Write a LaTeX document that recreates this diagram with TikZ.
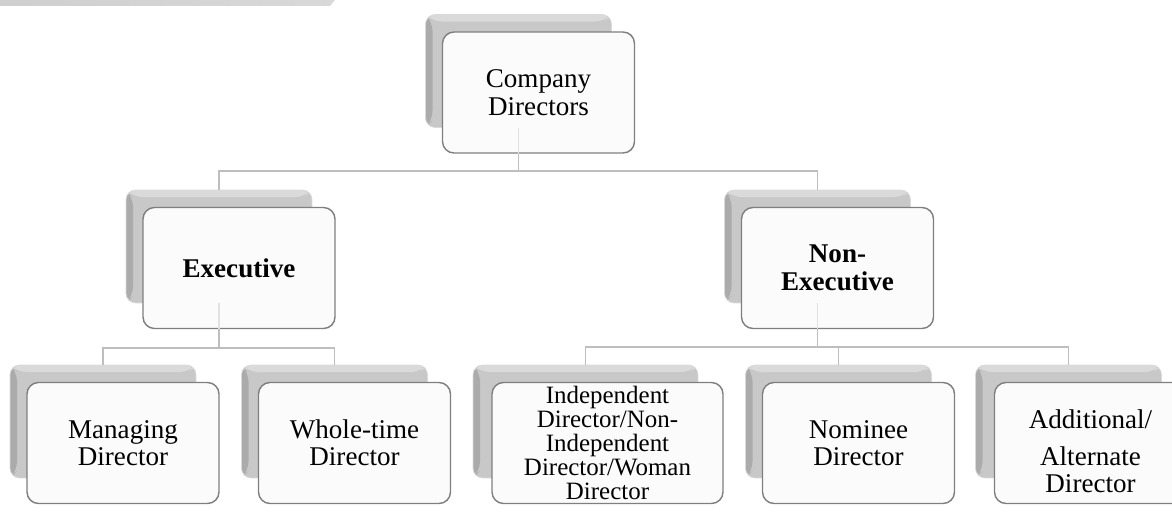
\documentclass[tikz,border=0pt]{standalone}
\usepackage{fontspec}
\setmainfont{Liberation Serif}
\usepackage{xcolor}
\usepackage{tikz}
\usetikzlibrary{positioning}
\definecolor{cardedge}{HTML}{7F7F7F}
\definecolor{cardfill}{HTML}{FBFBFC}
\definecolor{linkgray}{HTML}{BEBEBE}
\definecolor{backtop}{HTML}{DADADA}
\definecolor{backmid}{HTML}{C8C8C8}
\definecolor{backside}{HTML}{ABABAB}

\begin{document}
\begin{tikzpicture}[x=0.02cm,y=-0.02cm,font=\fontsize{15.4}{15.6}\selectfont]
\tikzset{
backcard/.style={rounded corners=5.5pt,minimum width=3.72cm,minimum height=2.26cm,inner sep=0pt,fill=backmid,draw=backtop,
  path picture={
    \fill[backside] (path picture bounding box.north west) -- ++(4pt,-4pt)
      -- ([shift={(4pt,4pt)}]path picture bounding box.south west) -- (path picture bounding box.south west) -- cycle;
    \fill[backtop] (path picture bounding box.north west) -- (path picture bounding box.north east)
      -- ++(-4pt,-4pt) -- ([shift={(4pt,-4pt)}]path picture bounding box.north west) -- cycle;}},
card/.style={draw=cardedge,line width=0.8pt,rounded corners=6.5pt,fill=cardfill,minimum width=3.84cm,minimum height=2.42cm,
  text width=3.6cm,align=center,inner sep=0pt},
link/.style={draw=linkgray,line width=1.1pt},
ghost/.style={draw=linkgray!45,line width=1pt}}

\useasboundingbox (0,0) rectangle (1172,517);
\clip (0,0) rectangle (1172,517);

% header strip of the page
\shade[left color=gray!38,right color=gray!30] (0,0) -- (335,0) -- (330,6) -- (0,6) -- cycle;

% back layer
\node[backcard] (topB) at (518.5,71) {};
\node[backcard] (execB) at (219,246.5) {};
\node[backcard] (nonexB) at (817.5,246.5) {};
\node[backcard] (mdB) at (103,421.5) {};
\node[backcard] (wtdB) at (334.5,421.5) {};
\node[backcard,minimum width=4.5cm] (indB) at (585.5,421.5) {};
\node[backcard] (nomB) at (838.5,421.5) {};
\node[backcard] (addB) at (1068.5,421.5) {};

% front layer
\node[card] (topF) at ([shift={(20,21.5)}]topB) {Company\\Directors};
\node[card] (execF) at ([shift={(20,21.5)}]execB) {\textbf{Executive}};
\node[card] (nonexF) at ([shift={(20,21.5)}]nonexB) {\textbf{Non-}\\\textbf{Executive}};
\node[card] (mdF) at ([shift={(20,21.5)}]mdB) {Managing\\Director};
\node[card] (wtdF) at ([shift={(20,21.5)}]wtdB) {Whole-time\\Director};
\node[card,minimum width=4.62cm,text width=4.4cm,font=\fontsize{14.2}{13.6}\selectfont] (indF) at ([shift={(22,21.5)}]indB)
  {Independent\\Director/Non-\\Independent\\Director/Woman\\Director};
\node[card] (nomF) at ([shift={(20,21.5)}]nomB) {Nominee\\Director};
\node[card] (addF) at ([shift={(22,21.5)}]addB) {\rule{0pt}{20pt}Additional/\\[5.5pt]Alternate\\Director};

% faint stems seen through the front cards
\draw[ghost] (topB.south) -- (topB.south |- topF.south);
\draw[ghost] (execB.south) -- (execB.south |- execF.south);
\draw[ghost] (nonexB.south) -- (nonexB.south |- nonexF.south);

% elbow connectors
\draw[link] (topB.south |- topF.south) -- ++(0,17) -| (execB.north);
\draw[link] (topB.south |- topF.south) -- ++(0,17) -| (nonexB.north);
\draw[link] (execB.south |- execF.south) -- ++(0,19) -| (mdB.north);
\draw[link] (execB.south |- execF.south) -- ++(0,19) -| (wtdB.north);
\draw[link] (nonexB.south |- nonexF.south) -- ++(0,18) -| (indB.north);
\draw[link] (nonexB.south |- nonexF.south) -- ++(0,18) -| (nomB.north);
\draw[link] (nonexB.south |- nonexF.south) -- ++(0,18) -| (addB.north);
\end{tikzpicture}
\end{document}
